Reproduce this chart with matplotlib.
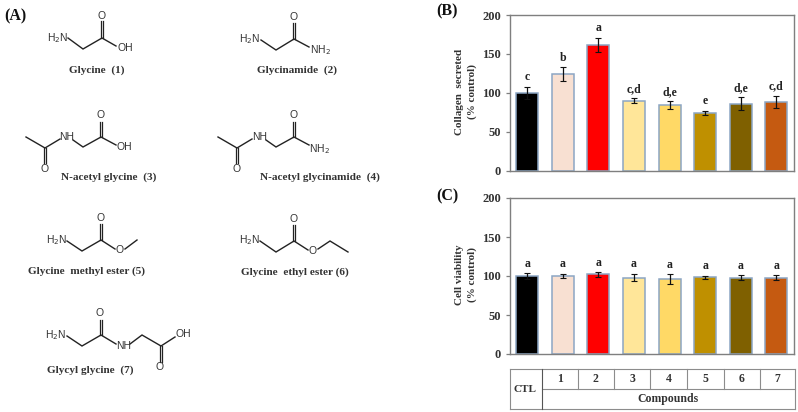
import matplotlib
matplotlib.use("Agg")
import matplotlib.pyplot as plt

# ── Data ──────────────────────────────────────────────
groups = ["CTL", "1", "2", "3", "4", "5", "6", "7"]
collagen = [100, 124, 162, 90, 84, 74, 86, 88]
collagen_err = [8, 9, 9, 3, 5, 3, 8, 8]
collagen_sig = ["c", "b", "a", "c,d", "d,e", "e", "d,e", "c,d"]
viability = [100, 100, 102, 98, 96, 98.5, 98, 98]
viability_err = [4, 3, 3, 5, 6, 2, 3, 3]
viability_sig = ["a"] * 8
y_ticks = [0, 50, 100, 150, 200]
bar_colors = ["#000000", "#F8E0D2", "#FF0000", "#FFE699", "#FFD966",
              "#BF9000", "#7F6000", "#C55A11"]
edge = "#8CA6C4"
serif = "Liberation Serif"
W, H = 798, 412

fig = plt.figure(figsize=(W / 100, H / 100), dpi=100)
bg = fig.add_axes([0, 0, 1, 1])
bg.set_xlim(0, W)
bg.set_ylim(H, 0)
bg.axis("off")


# ── Bar panels ────────────────────────────────────────
def bar_panel(top, bottom, vals, errs, sig, ylabel):
    ax = fig.add_axes([509.5 / W, 1 - bottom / H, 284.5 / W, (bottom - top) / H])
    x = range(len(vals))
    ax.bar(x, vals, width=0.62, color=bar_colors, edgecolor=edge, linewidth=1.1, zorder=2)
    ax.errorbar(x, vals, yerr=errs, fmt="none", ecolor="#111111", elinewidth=0.9,
                capsize=2, capthick=0.8, zorder=3)
    for i, s in enumerate(sig):
        ax.text(i, vals[i] + errs[i] + 12, s, ha="center", va="center", family=serif,
                fontweight="bold", fontsize=8.5, color="#222222")
    ax.set_xlim(-0.5, 7.5)
    ax.set_ylim(0, 200)
    ax.set_yticks(y_ticks)
    ax.set_xticks([])
    ax.tick_params(axis="y", length=3, width=0.9, color="#7f7f7f", pad=3)
    for lab in ax.get_yticklabels():
        lab.set_family(serif)
        lab.set_fontweight("bold")
        lab.set_fontsize(9)
        lab.set_color("#333333")
    for sp in ax.spines.values():
        sp.set_color("#7f7f7f")
        sp.set_linewidth(1.0)
    bg.text(466, (top + bottom) / 2 - 1, ylabel, rotation=90, ha="center", va="center",
            family=serif, fontweight="bold", fontsize=8, color="#333333", linespacing=1.4)
    return ax


bar_panel(15, 170.5, collagen, collagen_err, collagen_sig, "Collagen  secreted\n(% control)")
bar_panel(198, 354, viability, viability_err, viability_sig, "Cell viability\n(% control)")

# ── Group table under panel C ─────────────────────────
col_x = [510, 541.7, 577.7, 614, 650.3, 687, 723.7, 760.3, 795]
t_top, t_mid, t_bot = 369, 389, 409
tc = "#8c8c8c"
bg.plot([510, 795], [t_top, t_top], color=tc, lw=0.8)
bg.plot([510, 795], [t_bot, t_bot], color=tc, lw=0.8)
bg.plot([541.7, 795], [t_mid, t_mid], color=tc, lw=0.8)
bg.plot([510, 510], [t_top, t_bot], color=tc, lw=0.8)
bg.plot([541.7, 541.7], [t_top, t_bot], color="#555555", lw=0.8)
bg.plot([795, 795], [t_top, t_bot], color=tc, lw=0.8)
for cx in col_x[2:-1]:
    bg.plot([cx, cx], [t_top, t_mid], color=tc, lw=0.8)
for i, g in enumerate(groups[1:]):
    bg.text((col_x[i + 1] + col_x[i + 2]) / 2, 379.5, g, ha="center", va="center",
            family=serif, fontweight="bold", fontsize=8.5, color="#333333")
bg.text(525.5, 389, "CTL", ha="center", va="center", family=serif,
        fontweight="bold", fontsize=8, color="#333333")
bg.text(668, 399, "Compounds", ha="center", va="center", family=serif,
        fontweight="bold", fontsize=8.5, color="#333333")

# ── Panel letters ─────────────────────────────────────
for lab, px, py in [("(A)", 15, 16), ("(B)", 447, 11), ("(C)", 447, 196)]:
    bg.text(px, py, lab, ha="center", va="center", family=serif, fontweight="bold",
            fontsize=11.5, color="#111111")

# ── Compound names ────────────────────────────────────
names = [("Glycine  (1)", 97, 70), ("Glycinamide  (2)", 297, 70),
         ("N-acetyl glycine  (3)", 109, 177), ("N-acetyl glycinamide  (4)", 320, 177),
         ("Glycine  methyl ester (5)", 87, 271), ("Glycine  ethyl ester (6)", 295, 272),
         ("Glycyl glycine  (7)", 90, 370)]
for txt, px, py in names:
    bg.text(px, py, txt, ha="center", va="center", family=serif, fontweight="bold",
            fontsize=8.1, color="#333333")

# ── Structures ────────────────────────────────────────
bond_c = "#222222"


def chain(points):
    bg.plot([p[0] for p in points], [p[1] for p in points], color=bond_c, lw=1.0,
            solid_joinstyle="miter")


def double(x, y0, y1):
    bg.plot([x - 1.2, x - 1.2], [y0, y1], color=bond_c, lw=0.9)
    bg.plot([x + 1.2, x + 1.2], [y0, y1], color=bond_c, lw=0.9)


def atom(txt, px, py):
    bg.text(px, py, txt, ha="center", va="center", family="Liberation Sans",
            fontsize=7.5, color="#333333")


h2n = "H$_2$N"
nh2 = "NH$_2$"

chain([(68, 38), (83, 49), (102, 38), (116, 46)])
double(102, 38, 21)
atom("O", 102, 16)
atom(h2n, 58, 38.5)
atom("OH", 125, 48)

chain([(261, 40), (276, 50), (294, 39), (309, 47)])
double(294, 39, 23)
atom("O", 294, 17)
atom(h2n, 250, 39)
atom(nh2, 320, 50)

chain([(26, 137), (45, 148), (60, 139)])
double(45, 148, 163)
atom("O", 45, 169)
atom("NH", 67, 137)
chain([(73, 140), (83, 147), (101, 137), (116, 145)])
double(101, 137, 122)
atom("O", 101, 115)
atom("OH", 124, 147)

chain([(218, 137), (237, 148), (252, 139)])
double(237, 148, 163)
atom("O", 237, 169)
atom("NH", 260, 137)
chain([(266, 140), (276, 147), (294, 137), (309, 145)])
double(294, 137, 122)
atom("O", 294, 115)
atom(nh2, 319, 149)

chain([(67, 241), (82, 251), (101, 240), (115, 249)])
chain([(125, 249), (137, 240)])
double(101, 240, 224)
atom("O", 101, 218)
atom("O", 120, 250)
atom(h2n, 57, 240)

chain([(260, 241), (276, 252), (294, 241), (308, 250)])
chain([(318, 249), (330, 241), (348, 252)])
double(294, 241, 225)
atom("O", 294, 219)
atom("O", 313, 251)
atom(h2n, 250, 240)

chain([(67, 336), (82, 346), (101, 335), (116, 344)])
chain([(130, 344), (142, 335), (161, 346), (175, 337)])
double(101, 335, 320)
double(161, 346, 362)
atom("O", 100, 313)
atom("O", 160, 367)
atom("NH", 124, 346)
atom("OH", 183, 334)
atom(h2n, 56, 335)

fig.savefig("out.png", dpi=100)
